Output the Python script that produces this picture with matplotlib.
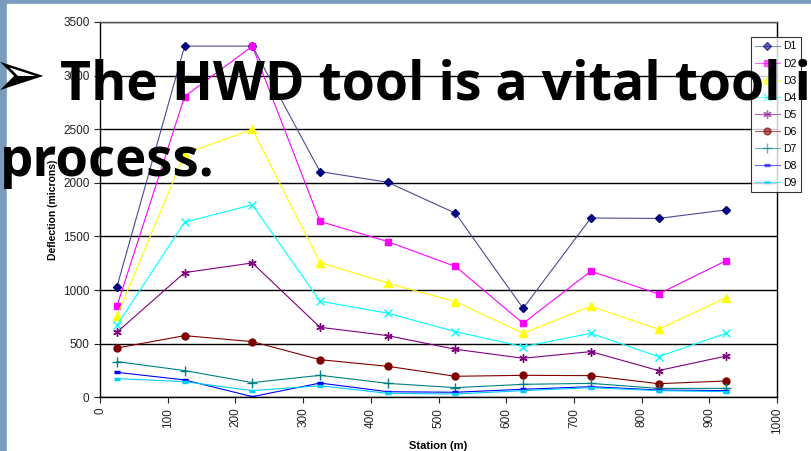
import numpy as np
import matplotlib
matplotlib.use("Agg")
import matplotlib.pyplot as plt

station = [25, 125, 225, 325, 425, 525, 625, 725, 825, 925]

d1 = [1030, 3275, 3275, 2105, 2005, 1717, 830, 1672, 1668, 1748]
d2 = [850, 2805, 3275, 1640, 1452, 1220, 690, 1176, 964, 1275]
d3 = [756, 2270, 2500, 1257, 1064, 892, 597, 849, 634, 930]
d4 = [672, 1633, 1795, 896, 784, 612, 472, 597, 379, 597]
d5 = [607, 1163, 1253, 653, 575, 448, 364, 426, 249, 385]
d6 = [460, 575, 519, 351, 289, 196, 205, 202, 127, 152]
d7 = [333, 249, 137, 205, 130, 90, 121, 130, 83, 83]
d8 = [233, 162, 6, 133, 52, 47, 75, 99, 68, 62]
d9 = [174, 146, 62, 108, 37, 31, 62, 90, 62, 53]

series = [
    ("D1", d1, "#000080", "#4a4a94", "D", 4.0),
    ("D2", d2, "#ff00ff", "#ff00ff", "s", 5.0),
    ("D3", d3, "#ffff00", "#ffff00", "^", 5.5),
    ("D4", d4, "#00ffff", "#00ffff", "x", 5.5),
    ("D5", d5, "#800080", "#800080", (6, 2, 0), 6.0),
    ("D6", d6, "#800000", "#800000", "o", 5.0),
    ("D7", d7, "#008080", "#008080", "+", 7.0),
    ("D8", d8, "#0000ff", "#0000ff", "_", 4.0),
    ("D9", d9, "#00ccff", "#00ccff", "_", 4.0),
]

plt.rcParams["font.family"] = "Liberation Sans"

fig = plt.figure(figsize=(8.11, 4.51), dpi=100)
fig.patch.set_facecolor("#7a9bbd")
# white slide area
fig.add_artist(plt.Rectangle((7 / 811, 0), 1, 1 - 4 / 451,
                             transform=fig.transFigure, color="white", zorder=0))

ax = fig.add_axes([100 / 811, 1 - 397.3 / 451, 677 / 811, 375.3 / 451])
ax.set_facecolor("white")

for name, vals, mcol, lcol, mk, ms in series:
    mew = 2.5 if mk == "_" else 1.0
    ax.plot(station, vals, color=lcol, lw=0.8, marker=mk, ms=ms,
            mec=mcol, mfc=mcol, mew=mew, label=name)

ax.set_xlim(0, 1000)
ax.set_ylim(0, 3500)
ax.set_xticks(np.arange(0, 1001, 100))
ax.set_yticks(np.arange(0, 3501, 500))
ax.tick_params(axis="x", labelrotation=90, labelsize=8.5, colors="#222222",
               length=4, direction="out")
ax.tick_params(axis="y", labelsize=8.5, colors="#222222", length=4,
               direction="out")
ax.yaxis.grid(True, color="black", lw=1)
ax.set_axisbelow(True)
for s in ax.spines.values():
    s.set_color("black")
    s.set_linewidth(1)
ax.spines["top"].set_color("#555555")

ax.set_xlabel("Station (m)", fontsize=8, fontweight="bold", labelpad=5)
ax.set_ylabel("Deflection (microns)", fontsize=7.5, fontweight="bold", labelpad=4)

leg = ax.legend(loc="upper left", bbox_to_anchor=(750.7 / 811, 1 - 37.3 / 451),
                bbox_transform=fig.transFigure, borderaxespad=0, fontsize=7.5,
                frameon=True, fancybox=False, edgecolor="black",
                handlelength=2.4, handletextpad=0.3, labelspacing=0.68,
                borderpad=0.4)
leg.get_frame().set_linewidth(0.8)
for h in leg.get_lines():
    h.set_alpha(0.6)

# slide text drawn over the chart
fig.text(-7 / 811, 1 - 78 / 451, "➢", fontsize=46, family="DejaVu Sans",
         color="black", va="center", zorder=10)
fig.text(60 / 811, 1 - 100 / 451, "The HWD tool is a vital tool in",
         fontsize=38.6, fontweight="bold", family="Open Sans", color="black",
         va="baseline", zorder=10)
fig.text(0 / 811, 1 - 176 / 451, "process.", fontsize=38, fontweight="bold",
         family="Open Sans", color="black", va="baseline", zorder=10)

fig.savefig("out.png", dpi=100)
